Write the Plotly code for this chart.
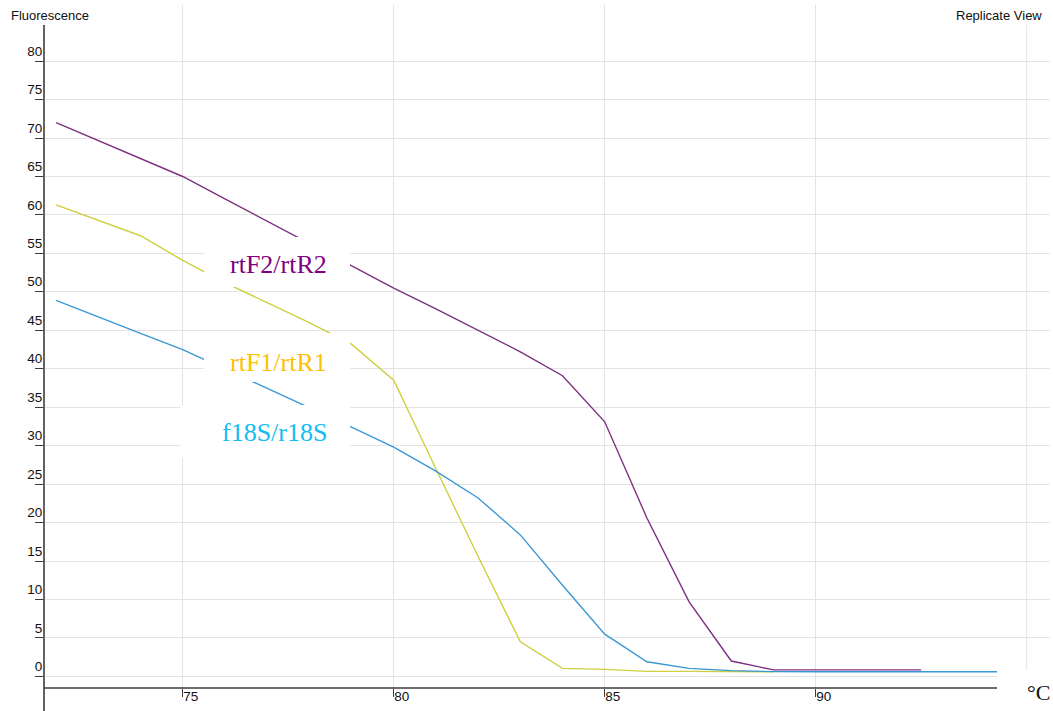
import plotly.graph_objects as go

# ---- data ----
temps_rtF2 = [72, 73, 74, 75, 76, 77, 78, 79, 80, 81, 82, 83, 84, 85, 86, 87, 88, 89, 90, 91, 92, 92.5]
fluor_rtF2 = [72.0, 69.7, 67.3, 65.0, 62.1, 59.2, 56.2, 53.3, 50.5, 47.8, 45.0, 42.2, 39.1, 33.1, 20.6, 9.7, 2.0, 0.85, 0.85, 0.85, 0.85, 0.85]

temps_rtF1 = [72, 73, 74, 75, 76, 77, 78, 79, 80, 81, 82, 83, 84, 85, 86, 87, 88, 89]
fluor_rtF1 = [61.3, 59.3, 57.3, 54.1, 51.2, 48.6, 46.0, 43.2, 38.5, 27.0, 15.6, 4.5, 1.05, 0.92, 0.65, 0.65, 0.62, 0.6]

temps_f18S = [72, 73, 74, 75, 76, 77, 78, 79, 80, 81, 82, 83, 84, 85, 86, 87, 88, 89, 90, 91, 92, 93, 94, 94.3]
fluor_f18S = [48.9, 46.7, 44.6, 42.5, 40.0, 37.5, 34.95, 32.4, 29.8, 26.7, 23.2, 18.4, 11.85, 5.5, 1.9, 1.05, 0.75, 0.62, 0.6, 0.6, 0.6, 0.6, 0.6, 0.6]

y_ticks = [0, 5, 10, 15, 20, 25, 30, 35, 40, 45, 50, 55, 60, 65, 70, 75, 80]
x_ticks = [75, 80, 85, 90]

labels = ["rtF2/rtR2", "rtF1/rtR1", "f18S/r18S"]
label_colors = ["#800080", "#FFC000", "#12BDF0"]
line_colors = ["#7E2F80", "#CFCF40", "#3A98D4"]

# ---- geometry helpers (pixel -> paper) ----
W, H = 1053, 711
ML, MR, MT, MB = 44, 3, 5, 23
PW, PH = W - ML - MR, H - MT - MB


def px(x):
    return (x - ML) / PW


def py(y):
    return (H - MB - y) / PH


fig = go.Figure()
fig.add_trace(go.Scatter(x=temps_rtF1, y=fluor_rtF1, mode="lines",
                         line=dict(color=line_colors[1], width=1.4), name=labels[1]))
fig.add_trace(go.Scatter(x=temps_f18S, y=fluor_f18S, mode="lines",
                         line=dict(color=line_colors[2], width=1.4), name=labels[2]))
fig.add_trace(go.Scatter(x=temps_rtF2, y=fluor_rtF2, mode="lines",
                         line=dict(color=line_colors[0], width=1.4), name=labels[0]))

grid = "#E4E4E4"
axis_col = "#3C3C3C"
tick_font = dict(family="Liberation Sans, Arial, sans-serif", size=13.5, color="#111111")

fig.update_layout(
    width=W, height=H,
    margin=dict(l=ML, r=MR, t=MT, b=MB),
    paper_bgcolor="white", plot_bgcolor="white",
    showlegend=False,
    xaxis=dict(range=[71.713, 95.552], tickvals=x_ticks, ticktext=[str(v) for v in x_ticks],
               ticks="outside", ticklen=8, tickwidth=1.3, tickcolor=axis_col,
               ticklabelposition="outside right", ticklabelstandoff=-4,
               showgrid=True, gridcolor=grid, gridwidth=1, zeroline=False, showline=False,
               tickfont=tick_font),
    yaxis=dict(range=[-1.508, 87.30], tickvals=y_ticks, ticktext=[str(v) for v in y_ticks],
               ticks="outside", ticklen=8, tickwidth=1.3, tickcolor=axis_col,
               ticklabelposition="outside top", ticklabelstandoff=-2,
               showgrid=True, gridcolor=grid, gridwidth=1, zeroline=False, showline=False,
               tickfont=tick_font),
)

shapes = []
# extra gridline at 95
shapes.append(dict(type="line", xref="x", yref="paper", x0=95, x1=95, y0=0, y1=1,
                   line=dict(color=grid, width=1), layer="below"))
# white patch bottom-right (covers axis end) and label boxes
shapes.append(dict(type="rect", xref="paper", yref="paper", x0=px(997), x1=px(1056),
                   y0=py(713), y1=py(670), fillcolor="white", line=dict(width=0), layer="above"))
boxes = [(204, 350, 237, 287), (204, 350, 333, 382), (180, 350, 405, 458)]
for (x0, x1, y0, y1) in boxes:
    shapes.append(dict(type="rect", xref="paper", yref="paper", x0=px(x0), x1=px(x1),
                       y0=py(y1), y1=py(y0), fillcolor="white", line=dict(width=0), layer="above"))
# axis lines
shapes.append(dict(type="line", xref="paper", yref="paper", x0=px(44), x1=px(997),
                   y0=py(688), y1=py(688), line=dict(color=axis_col, width=1.6), layer="above"))
shapes.append(dict(type="line", xref="paper", yref="paper", x0=px(44), x1=px(44),
                   y0=py(711), y1=py(25), line=dict(color=axis_col, width=1.6), layer="above"))
fig.update_layout(shapes=shapes)

annos = []
label_pos = [(278, 264), (278, 362), (274, 432)]
for txt, col, (cx, cy) in zip(labels, label_colors, label_pos):
    annos.append(dict(text=txt, x=px(cx), y=py(cy), xref="paper", yref="paper",
                      xanchor="center", yanchor="middle", showarrow=False,
                      font=dict(family="Liberation Serif, Times New Roman, serif", size=26, color=col)))
annos.append(dict(text="Fluorescence", x=0, y=1, xref="paper", yref="paper", showarrow=False,
                  xshift=-ML + 9, yshift=-1, xanchor="left", yanchor="top",
                  font=dict(family="Liberation Sans, Arial, sans-serif", size=13, color="#111111"),
                  bgcolor="white"))
annos.append(dict(text="Replicate View", x=px(1044), y=1, xref="paper", yref="paper", showarrow=False,
                  yshift=-1, xanchor="right", yanchor="top",
                  font=dict(family="Liberation Sans, Arial, sans-serif", size=13, color="#111111"),
                  bgcolor="white"))
annos.append(dict(text="°C", x=px(1038), y=py(692), xref="paper", yref="paper", showarrow=False,
                  xanchor="center", yanchor="middle",
                  font=dict(family="Liberation Serif, Times New Roman, serif", size=22, color="#111111")))
fig.update_layout(annotations=annos)

fig.write_html("out.html", config={"displayModeBar": False},
               post_script="document.body.style.margin='0';document.body.style.overflow='hidden';")
